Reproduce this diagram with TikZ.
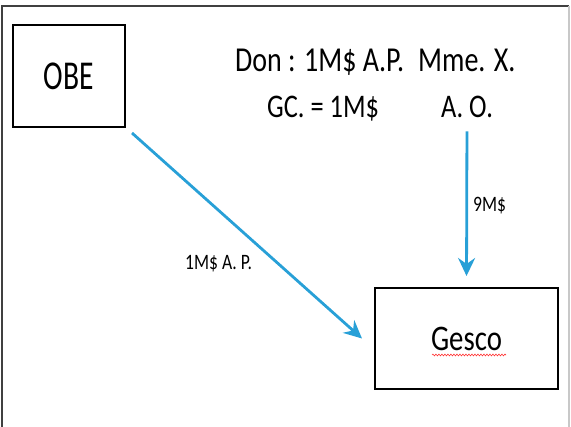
\documentclass[tikz,border=0pt]{standalone}
\usepackage{fontspec}
\newfontfamily\cf[FakeStretch=0.8]{Carlito}
\newfontfamily\cfn[FakeStretch=0.72]{Carlito}
\usetikzlibrary{arrows.meta,decorations.pathmorphing}
\definecolor{arrowblue}{RGB}{40,160,215}
\definecolor{framedark}{RGB}{64,64,64}
\definecolor{framelight}{RGB}{200,200,200}
\tikzset{
  boxnode/.style={draw=black, line width=2pt, align=center, inner sep=0pt},
  txt/.style={inner sep=0pt, text=black},
  flow/.style={draw=arrowblue, line width=2.8pt, -{Stealth[length=18pt,width=17pt,inset=6pt]}},
  squiggle/.style={draw=red!80, line width=0.6pt, decorate, decoration={snake, amplitude=0.9pt, segment length=3pt}}
}
\begin{document}
\begin{tikzpicture}[x=1pt,y=-1pt]
\useasboundingbox (0,0) rectangle (571,427);
% outer frame
\draw[framedark, line width=2pt] (2,427) -- (2,6) -- (569,6);
\draw[framelight, line width=1.5pt] (569,6) -- (569,427);
% boxes
\node[boxnode, minimum width=112pt, minimum height=102pt] (OBE) at (69,76) {\cfn\fontsize{41}{41}\selectfont OBE};
\node[boxnode, minimum width=183pt, minimum height=101pt] (Gesco) at (466.5,338.5) {\cf\fontsize{36}{36}\selectfont Gesco};
\coordinate (sqa) at (432,355);
\coordinate (sqb) at (506,355);
\draw[squiggle] (sqa) -- (sqb);
% texts
\node[txt, anchor=base west] (don) at (235,72) {\cf\fontsize{35}{35}\selectfont Don : 1M\$ A.P.};
\node[txt, anchor=base west] (mme) at (418,72) {\cf\fontsize{35}{35}\selectfont Mme. X.};
\node[txt, anchor=base west] (gc) at (267,118) {\cf\fontsize{33}{33}\selectfont GC. = 1M\$};
\node[txt, anchor=base] (AO) at (467,118) {\cf\fontsize{33}{33}\selectfont A. O.};
\node[txt, anchor=base west] (l9) at (473,212) {\cf\fontsize{22}{22}\selectfont 9M\$};
\node[txt, anchor=base west] (l1) at (185,270) {\cf\fontsize{22}{22}\selectfont 1M\$ A. P.};
% arrows
\coordinate (a1s) at (132,133);
\coordinate (a1e) at ([xshift=-12pt]Gesco.west);
\draw[flow] (a1s) -- (a1e);
\draw[flow, shorten <=13pt, shorten >=11pt] (AO.south) -- (Gesco.north);
\end{tikzpicture}
\end{document}
